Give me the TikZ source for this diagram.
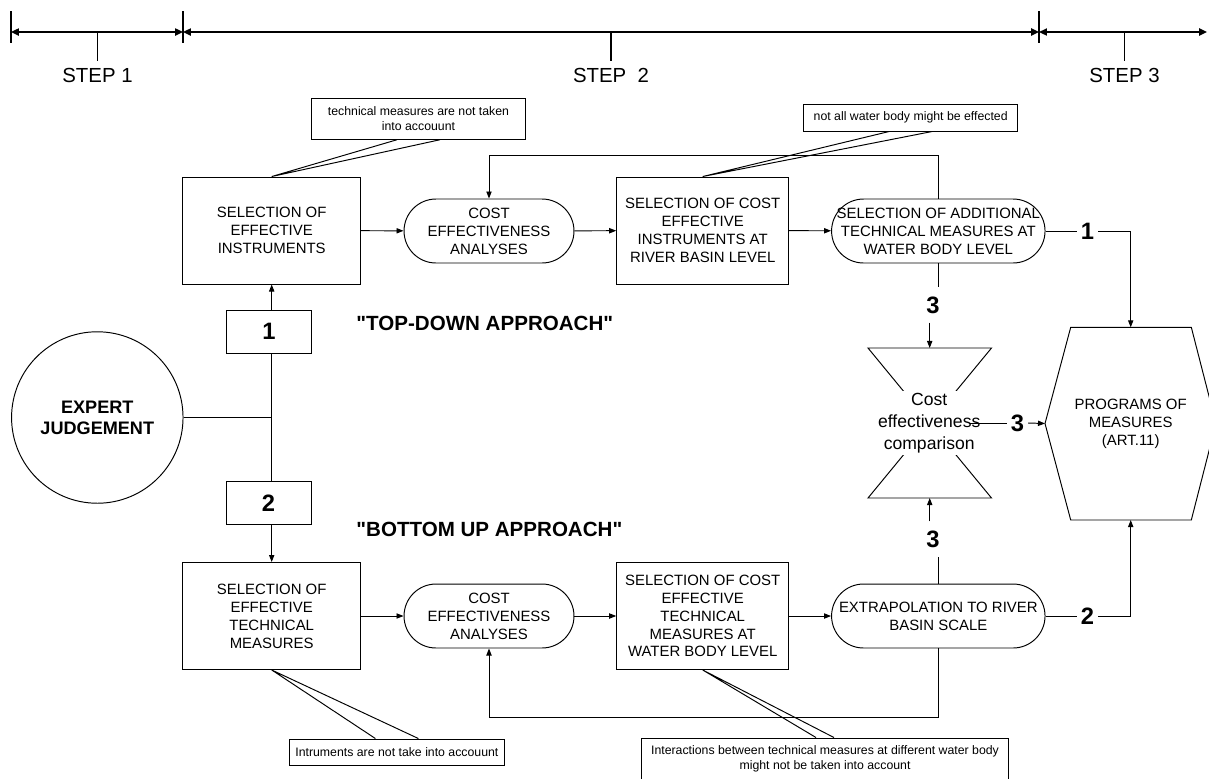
\documentclass[tikz,border=0pt]{standalone}
\usepackage{fontspec}
\setmainfont{Liberation Sans}[Ligatures=TeXOff]
\usetikzlibrary{arrows.meta}

\begin{document}
\begin{tikzpicture}[x=0.02cm,y=-0.02cm,line width=0.55pt,
  box/.style={draw,align=center,inner sep=1pt,minimum width=3.55cm,minimum height=2.14cm,font=\fontsize{8.5}{10.2}\selectfont},
  term/.style={draw,align=center,inner sep=0pt,rounded corners=0.64cm,minimum width=3.4cm,minimum height=1.28cm,font=\fontsize{8.5}{10.2}\selectfont},
  numbox/.style={draw,minimum width=1.7cm,minimum height=0.86cm,font=\fontsize{13.5}{14}\selectfont\bfseries},
  lbl/.style={inner xsep=2pt,inner ysep=5pt,font=\fontsize{13.5}{14}\selectfont\bfseries},
  note/.style={draw,align=center,inner sep=0pt,font=\fontsize{7}{8.5}\selectfont},
  arr/.style={-{Triangle[length=4pt,width=3pt]}},
  tl/.style={line width=1.1pt,{Triangle[length=4.5pt,width=4pt]}-{Triangle[length=4.5pt,width=4pt]}}]
\useasboundingbox (0,0) rectangle (1209,778);

\coordinate (t0) at (11,32);
\coordinate (t1) at (183,32);
\coordinate (t2) at (1039,32);
\coordinate (t3) at (1207,32);
\draw[tl] (t0) -- (t1);
\draw[tl] (t1) -- (t2);
\draw[tl] (t2) -- (t3);
\foreach \x in {11,183,1039} \draw[line width=1.1pt] (\x,11) -- (\x,43);
\foreach \x/\s [count=\i] in {97.5/1,611/{~2},1124.5/3} {
  \draw[line width=1.1pt] (\x,32) -- (\x,61);
  \node[font=\fontsize{11.6}{14}\selectfont] (step\i) at (\x,75) {STEP \s};
}

\node[box] (selinstr) at (271.7,230.5) {SELECTION OF\\EFFECTIVE\\INSTRUMENTS};
\node[term] (cea1) at (489,231) {COST\\EFFECTIVENESS\\ANALYSES};
\node[box,minimum width=3.44cm] (selcost) at (702.7,230.5) {SELECTION OF COST\\EFFECTIVE\\INSTRUMENTS AT\\RIVER BASIN LEVEL};
\node[term,minimum width=4.27cm] (seladd) at (938.3,231) {SELECTION OF ADDITIONAL\\TECHNICAL MEASURES AT\\WATER BODY LEVEL};

\node[box] (seltech) at (271.7,616) {SELECTION OF\\EFFECTIVE\\TECHNICAL\\MEASURES};
\node[term] (cea2) at (489,616) {COST\\EFFECTIVENESS\\ANALYSES};
\node[box,minimum width=3.44cm] (selcosttech) at (702.7,616) {SELECTION OF COST\\EFFECTIVE\\TECHNICAL\\MEASURES AT\\WATER BODY LEVEL};
\node[term,minimum width=4.27cm] (extrap) at (938.3,616) {EXTRAPOLATION TO RIVER\\BASIN SCALE};

\node[draw,circle,minimum size=3.43cm,align=center,font=\fontsize{10.3}{11.9}\selectfont\bfseries] (expert) at (97.3,417.5) {EXPERT\\JUDGEMENT};
\node[numbox] (num1) at (269,331.7) {1};
\node[numbox] (num2) at (268.5,503.2) {2};

\node[anchor=west,inner sep=0pt,font=\fontsize{11.7}{14}\selectfont\bfseries] (topdown) at (356,323) {"TOP-DOWN APPROACH"};
\node[anchor=west,inner sep=0pt,font=\fontsize{11.7}{14}\selectfont\bfseries] (bottomup) at (356,529) {"BOTTOM UP APPROACH"};

\node[note,minimum width=4.28cm,minimum height=0.81cm] (cal1) at (418.5,119) {technical measures are not taken\\into accouunt};
\node[note,minimum width=4.29cm,minimum height=0.54cm] (cal2) at (910.7,117.5) {not all water body might be effected};
\node[note,minimum width=4.29cm,minimum height=0.52cm] (cal3) at (396.9,752) {Intruments are not take into accouunt};
\node[note,minimum width=7.36cm,minimum height=0.84cm] (cal4) at (825,759) {Interactions between technical measures at different water body\\might not be taken into account};
\draw ([xshift=-0.43cm]cal1.south) -- (selinstr.north) -- ([xshift=0.43cm]cal1.south);
\draw ([xshift=-0.43cm]cal2.south) -- (selcost.north) -- ([xshift=0.43cm]cal2.south);
\draw ([xshift=-0.43cm]cal3.north) -- (seltech.south) -- ([xshift=0.43cm]cal3.north);
\draw ([xshift=-0.18cm]cal4.north) -- (selcosttech.south) -- ([xshift=0.18cm]cal4.north);

\draw (868,348) -- (991.5,348) -- (929.7,423) -- cycle;
\draw (868,498) -- (991.5,498) -- (929.7,423) -- cycle;
\node[fill=white,inner sep=1pt,align=center,font=\fontsize{10}{12.5}\selectfont] (cecomp) at (929.2,423) {Cost\\effectiveness\\comparison};
\coordinate (hgtop) at (929.7,348);
\coordinate (hgbot) at (929.7,498);
\coordinate (hgout) at (969,423);

\draw (1070.7,327.3) -- (1191.3,327.3) -- (1216,423.5) -- (1191.3,520) -- (1070.7,520) -- (1045,423.5) -- cycle;
\node[align=center,font=\fontsize{8.5}{10.2}\selectfont] (prog) at (1130.7,424) {PROGRAMS OF\\MEASURES\\(ART.11)};
\coordinate (progtop) at (1130.7,327.3);
\coordinate (progleft) at (1045,423.5);
\coordinate (progbot) at (1130.7,520);

\draw[arr] (selinstr) -- (cea1);
\draw[arr] (cea1) -- (selcost);
\draw[arr] (selcost) -- (seladd);
\draw[arr] (seltech) -- (cea2);
\draw[arr] (cea2) -- (selcosttech);
\draw[arr] (selcosttech) -- (extrap);
\draw[arr] (seladd.north) -- ++(0,-43) -| (cea1.north);
\draw[arr] (extrap.south) -- ++(0,68.7) -| (cea2.south);

\draw[arr] (num1.north -| selinstr.south) -- (selinstr.south);
\draw (num1.south -| selinstr.south) -- (num2.north -| selinstr.south);
\draw (expert.east) -- (expert.east -| selinstr.south);
\draw[arr] (num2.south -| seltech.north) -- (seltech.north);

\node[lbl] (l1) at (1087.4,231) {1};
\node[lbl] (l2) at (1087.4,616) {2};
\node[lbl] (l3a) at (933,305) {3};
\node[lbl] (l3b) at (933,539) {3};
\node[lbl] (l3c) at (1017.5,423) {3};
\draw (seladd.east) -- (l1.west);
\draw[arr] (l1.east) -| (progtop);
\draw (extrap.east) -- (l2.west);
\draw[arr] (l2.east) -| (progbot);
\draw (seladd.south) -- (seladd.south |- l3a.north);
\draw[arr] (hgtop |- l3a.south) -- (hgtop);
\draw (extrap.north) -- (extrap.north |- l3b.south);
\draw[arr] (hgbot |- l3b.north) -- (hgbot);
\draw (hgout) -- (l3c.west);
\draw[arr] (l3c.east) -- (progleft);
\end{tikzpicture}
\end{document}
